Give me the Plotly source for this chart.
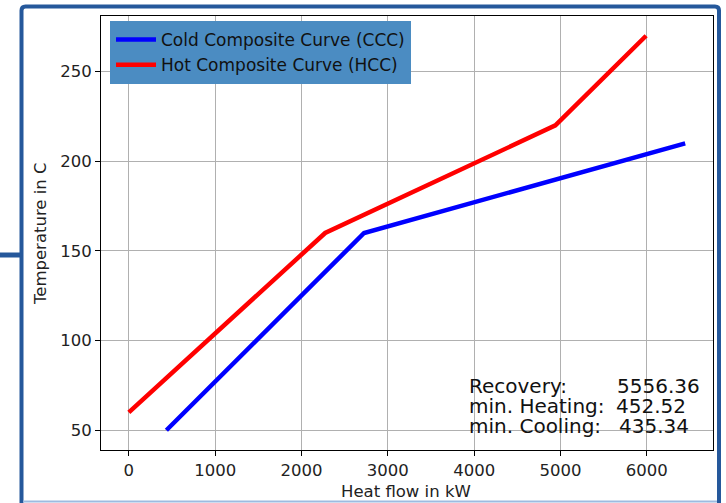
import plotly.graph_objects as go

# Data
ccc_q = [435.34, 2725, 6444.22]
ccc_t = [50, 160, 210]
hcc_q = [0, 2274, 4941, 5991.7]
hcc_t = [60, 160, 220, 270]
x_ticks = [0, 1000, 2000, 3000, 4000, 5000, 6000]
y_ticks = [50, 100, 150, 200, 250]
summary_labels = ["Recovery:", "min. Heating:", "min. Cooling:"]
summary_values = ["5556.36", "452.52", "435.34"]

W, H = 726, 503
L, R, T, B = 101, 713, 16, 450
FONT = "DejaVu Sans"
TICK_SIZE = 16.5


def px(x):
    return (x - L) / (R - L)


def py(y):
    return (B - y) / (B - T)


fig = go.Figure()
fig.add_trace(go.Scatter(x=ccc_q, y=ccc_t, mode="lines", name="Cold Composite Curve (CCC)",
                         line=dict(color="#0000ff", width=4.5)))
fig.add_trace(go.Scatter(x=hcc_q, y=hcc_t, mode="lines", name="Hot Composite Curve (HCC)",
                         line=dict(color="#ff0000", width=4.5)))

axis_common = dict(showgrid=True, gridcolor="#b0b0b0", gridwidth=1, zeroline=False,
                   showline=True, linecolor="black", linewidth=1, mirror=True,
                   ticks="outside", ticklen=5, tickcolor="black",
                   tickfont=dict(family=FONT, size=TICK_SIZE, color="#222222"))

fig.update_layout(
    width=W, height=H,
    margin=dict(l=L, r=W - R, t=T, b=H - B, pad=0),
    paper_bgcolor="white", plot_bgcolor="white",
    font=dict(family=FONT, size=TICK_SIZE, color="#222222"),
    xaxis=dict(range=[-322.2, 6766.4], tickvals=x_ticks, **axis_common),
    yaxis=dict(range=[39, 281], tickvals=y_ticks, **axis_common),
    legend=dict(x=px(110), y=py(21), xanchor="left", yanchor="top",
                bgcolor="#4b8cc2", bordercolor="#4b8cc2", borderwidth=1,
                font=dict(family=FONT, size=17, color="#111111"),
                itemwidth=40, tracegroupgap=0),
    showlegend=True,
)

annotations = [
    dict(text="Heat flow in kW", x=px(406), y=py(491), xref="paper", yref="paper",
         xanchor="center", yanchor="middle",
         showarrow=False, font=dict(family=FONT, size=TICK_SIZE, color="#222222")),
    dict(text="Temperature in C", x=px(40), y=py(233), xref="paper", yref="paper",
         xanchor="center", yanchor="middle",
         showarrow=False, textangle=-90, font=dict(family=FONT, size=TICK_SIZE, color="#222222")),
]
label_y = [386, 406, 426]
value_x = [615, 614, 617]
for lab, val, yy, vx in zip(summary_labels, summary_values, label_y, value_x):
    annotations.append(dict(text=lab, x=px(467), y=py(yy), xref="paper", yref="paper",
                            xanchor="left", yanchor="middle", showarrow=False,
                            font=dict(family=FONT, size=20, color="#111111")))
    annotations.append(dict(text=val, x=px(vx), y=py(yy), xref="paper", yref="paper",
                            xanchor="left", yanchor="middle", showarrow=False,
                            font=dict(family=FONT, size=20, color="#111111")))
fig.update_layout(annotations=annotations)

# Slide frame decorations
frame_col = "#25589b"
r = 4
x0, x1, y0, y1 = 21.5, 719, 6.5, 530
path = (f"M {px(x0)},{py(y1)} L {px(x0)},{py(y0 + r)} "
        f"Q {px(x0)},{py(y0)} {px(x0 + r)},{py(y0)} "
        f"L {px(x1 - r)},{py(y0)} Q {px(x1)},{py(y0)} {px(x1)},{py(y0 + r)} "
        f"L {px(x1)},{py(y1)}")
shapes = [
    dict(type="path", path=path, xref="paper", yref="paper",
         line=dict(color=frame_col, width=4)),
    dict(type="line", x0=px(0), x1=px(21), y0=py(255), y1=py(255), xref="paper", yref="paper",
         line=dict(color=frame_col, width=5)),
    dict(type="line", x0=px(23), x1=px(717), y0=py(501.5), y1=py(501.5), xref="paper", yref="paper",
         line=dict(color="#9dbbe0", width=2)),
]
fig.update_layout(shapes=shapes)

fig.write_html("out.html", config={"displayModeBar": False},
               post_script="document.body.style.margin='0';document.body.style.padding='0';")
